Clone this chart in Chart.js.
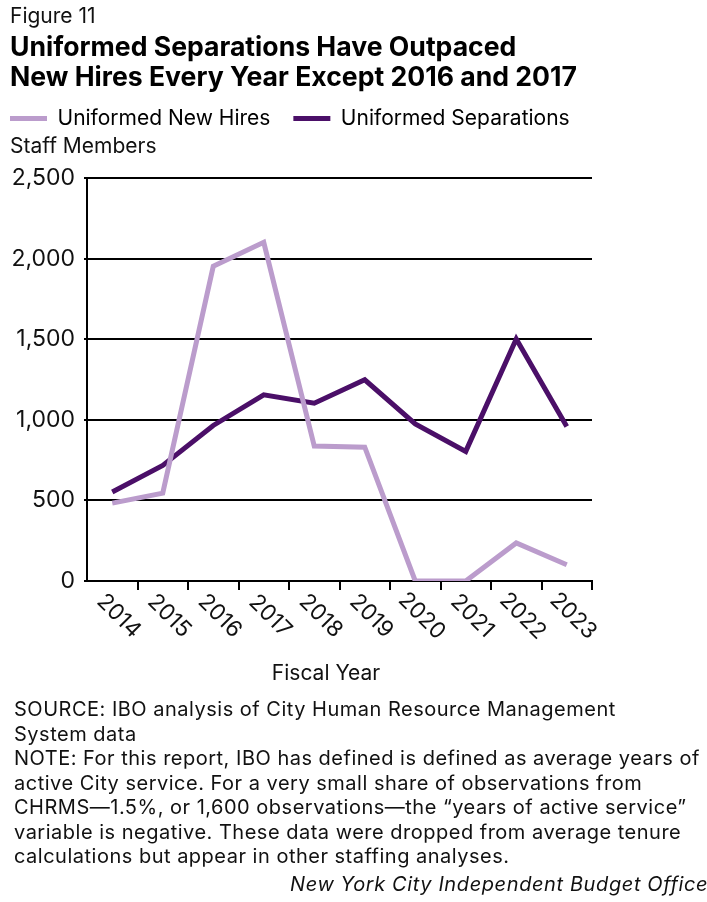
<!DOCTYPE html>
<html>
<head>
<meta charset="utf-8">
<script src="https://cdn.jsdelivr.net/npm/chart.js@4.4.1/dist/chart.umd.min.js"></script>
<style>
  body { margin: 0; background: #fff; font-family: Inter, Roboto, sans-serif; color: #111; }
  #page { position: relative; width: 707px; height: 902px; overflow: hidden; }
  #chart-wrap { position: absolute; left: 0; top: 0; width: 707px; height: 902px; }
  .txt { position: absolute; white-space: nowrap; }
  #fig { left: 10px; top: 3px; font-size: 21px; }
  #title { left: 10px; top: 31px; font-size: 26.6px; font-weight: bold; line-height: 30px; color: #000; }
  #yunit { left: 10px; top: 133px; font-size: 21px; }
  #xtitle { left: 0; width: 652px; text-align: center; top: 660px; font-size: 21px; }
  #notes { left: 14px; top: 697px; font-size: 20px; line-height: 24.5px; letter-spacing: 0.5px; }
  #credit { left: 290px; top: 872px; font-size: 20px; font-style: italic; letter-spacing: 0.6px; }
</style>
</head>
<body>
<div id="page">
  <div id="chart-wrap"><canvas id="chart-uniformed"></canvas></div>
  <div class="txt" id="fig">Figure 11</div>
  <div class="txt" id="title">Uniformed Separations Have Outpaced<br>New Hires Every Year Except 2016 and 2017</div>
  <div class="txt" id="yunit">Staff Members</div>
  <div class="txt" id="xtitle">Fiscal Year</div>
  <div class="txt" id="notes">SOURCE: IBO analysis of City Human Resource Management<br>System data<br>NOTE: For this report, IBO has defined is defined as average years of<br>active City service. For a very small share of observations from<br>CHRMS—1.5%, or 1,600 observations—the “years of active service”<br>variable is negative. These data were dropped from average tenure<br>calculations but appear in other staffing analyses.</div>
  <div class="txt" id="credit">New York City Independent Budget Office</div>
</div>
<script>
"use strict";

const fiscal_years = ['2014', '2015', '2016', '2017', '2018', '2019', '2020', '2021', '2022', '2023'];
const new_hires = [483, 545, 1952, 2101, 837, 830, 0, 0, 236, 101];
const separations = [552, 717, 965, 1155, 1103, 1248, 975, 804, 1502, 959];
const y_ticks = [0, 500, 1000, 1500, 2000, 2500];

const HIRES_COLOR = '#bb9ccc';
const SEPARATIONS_COLOR = '#4b0f68';
const FONT_FAMILY = 'Inter, Roboto, sans-serif';

// rotated year labels, drawn clockwise under each category
const year_labels = {
    id: 'year_labels',
    afterDraw(chart) {
        const ctx = chart.ctx;
        const x_scale = chart.scales.x;
        ctx.save();
        ctx.font = '22.5px ' + FONT_FAMILY;
        ctx.fillStyle = '#111';
        ctx.textAlign = 'center';
        ctx.textBaseline = 'middle';
        fiscal_years.forEach((year, i) => {
            const x = x_scale.getPixelForValue(i);
            ctx.save();
            ctx.translate(x + 6.5, x_scale.top + 35);
            ctx.rotate(Math.PI / 4);
            ctx.fillText(year, 0, 0);
            ctx.restore();
        });
        ctx.restore();
    }
};

// legend: one row across the page, taller box so the unit label fits underneath
const legend_space = {
    id: 'legend_space',
    beforeInit(chart) {
        const fit = chart.legend.fit;
        chart.legend.fit = function () {
            this.maxWidth = 800;
            fit.call(this);
            this.height = 93;
        };
    },
    afterLayout(chart) {
        chart.legend.right = chart.width;
    }
};

function load_uniformed_chart(canvas_element) {
    new Chart(canvas_element, {
        type: 'line',
        data: {
            labels: fiscal_years,
            datasets: [
                {
                    label: 'Uniformed New Hires',
                    data: new_hires,
                    borderColor: HIRES_COLOR,
                    backgroundColor: HIRES_COLOR,
                    borderWidth: 5,
                    pointRadius: 0,
                    tension: 0,
                    borderJoinStyle: 'miter',
                },
                {
                    label: 'Uniformed Separations',
                    data: separations,
                    borderColor: SEPARATIONS_COLOR,
                    backgroundColor: SEPARATIONS_COLOR,
                    borderWidth: 5,
                    pointRadius: 0,
                    tension: 0,
                    borderJoinStyle: 'miter',
                }
            ]
        },
        options: {
            responsive: false,
            animation: false,
            layout: {
                padding: { left: -13, right: 115, top: 85, bottom: 312 }
            },
            plugins: {
                legend: {
                    position: 'top',
                    align: 'start',
                    labels: {
                        boxWidth: 37,
                        boxHeight: 5,
                        padding: 23,
                        useBorderRadius: true,
                        borderRadius: 2.5,
                        color: '#111',
                        font: { family: FONT_FAMILY, size: 21 },
                        generateLabels: chart => chart.data.datasets.map((ds, i) => ({
                            text: ds.label,
                            fillStyle: ds.borderColor,
                            strokeStyle: ds.borderColor,
                            lineWidth: 0,
                            hidden: false,
                            datasetIndex: i,
                        })),
                    }
                },
                tooltip: { enabled: false },
            },
            scales: {
                x: {
                    offset: true,
                    border: { color: '#000', width: 2 },
                    grid: {
                        offset: true,
                        drawOnChartArea: false,
                        drawTicks: true,
                        tickLength: 9,
                        lineWidth: 2,
                        color: ctx => ctx.index === 0 ? 'rgba(0,0,0,0)' : '#000',
                    },
                    ticks: { display: false },
                },
                y: {
                    min: 0,
                    max: 2500,
                    afterFit(scale) { scale.width = 100; },
                    afterBuildTicks(scale) { scale.ticks = y_ticks.map(v => ({ value: v })); },
                    border: { color: '#000', width: 2 },
                    grid: {
                        color: '#000',
                        lineWidth: 2,
                        tickLength: 3,
                    },
                    ticks: {
                        padding: 9,
                        color: '#111',
                        font: { family: FONT_FAMILY, size: 23 },
                        callback: v => v.toLocaleString('en-US'),
                    },
                }
            }
        },
        plugins: [legend_space, year_labels]
    });
}

const canvas = document.getElementById('chart-uniformed');
canvas.width = 707;
canvas.height = 902;
load_uniformed_chart(canvas);
</script>
</body>
</html>
